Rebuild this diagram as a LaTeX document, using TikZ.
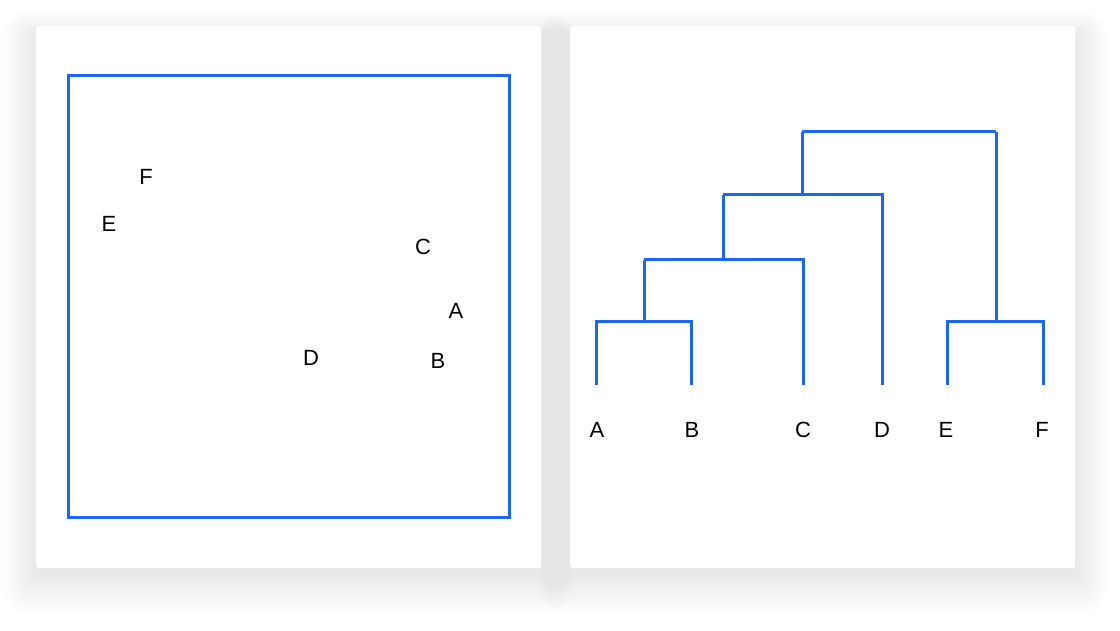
\documentclass[tikz,border=0pt]{standalone}
\usepackage{fontspec}
\setmainfont{Liberation Sans}
\begin{document}
\begin{tikzpicture}[x=1pt,y=-1pt,
  bl/.style={draw=blueline,line width=3pt},
  lbl/.style={font=\fontsize{22}{26}\selectfont,inner sep=0pt,anchor=center},
  panel/.style={fill=white,rounded corners=3pt}]
\definecolor{blueline}{HTML}{1A66F5}
\useasboundingbox (0,0) rectangle (1120,631);
\fill[white] (0,0) rectangle (1120,631);
% shadows
\foreach \p in {36,570}{
  \foreach \i in {1,...,22}{
    \fill[black,opacity=0.005,rounded corners=\i pt]
      (\p-\i*1.5,26+10-\i*1.1) rectangle (\p+505+\i*1.5,568+6+\i*1.8);
  }
}
\node[panel,minimum width=505pt,minimum height=542pt,inner sep=0pt,anchor=north west] (lp) at (36,26) {};
\node[panel,minimum width=505pt,minimum height=542pt,inner sep=0pt,anchor=north west] (rp) at (570,26) {};
% left square
\draw[bl] (68,76) rectangle (509,517);
\node[lbl] (lF) at (146,177) {F};
\node[lbl] (lE) at (109,224) {E};
\node[lbl] (lC) at (423,247) {C};
\node[lbl] (lA) at (456,311) {A};
\node[lbl] (lD) at (311,358) {D};
\node[lbl] (lB) at (438,361) {B};
% dendrogram
\coordinate (a) at (596,385);
\coordinate (b) at (691,385);
\coordinate (c) at (803,385);
\coordinate (d) at (882,385);
\coordinate (e) at (947,385);
\coordinate (f) at (1043,385);
\draw[bl] (a) |- (644,322) -| (b);
\draw[bl] (644,322) -- (644,260);
\draw[bl] (644,260) -| (c);
\draw[bl] (723,260) -- (723,195);
\draw[bl] (723,195) -| (d);
\draw[bl] (802,195) -- (802,132);
\draw[bl] (e) |- (996,322) -| (f);
\draw[bl] (996,322) -- (996,132);
\draw[bl] (802,132) -- (996,132);
\node[lbl] (tA) at (597,430) {A};
\node[lbl] (tB) at (692,430) {B};
\node[lbl] (tC) at (803,430) {C};
\node[lbl] (tD) at (882,430) {D};
\node[lbl] (tE) at (946,430) {E};
\node[lbl] (tF) at (1042,430) {F};
\end{tikzpicture}
\end{document}
